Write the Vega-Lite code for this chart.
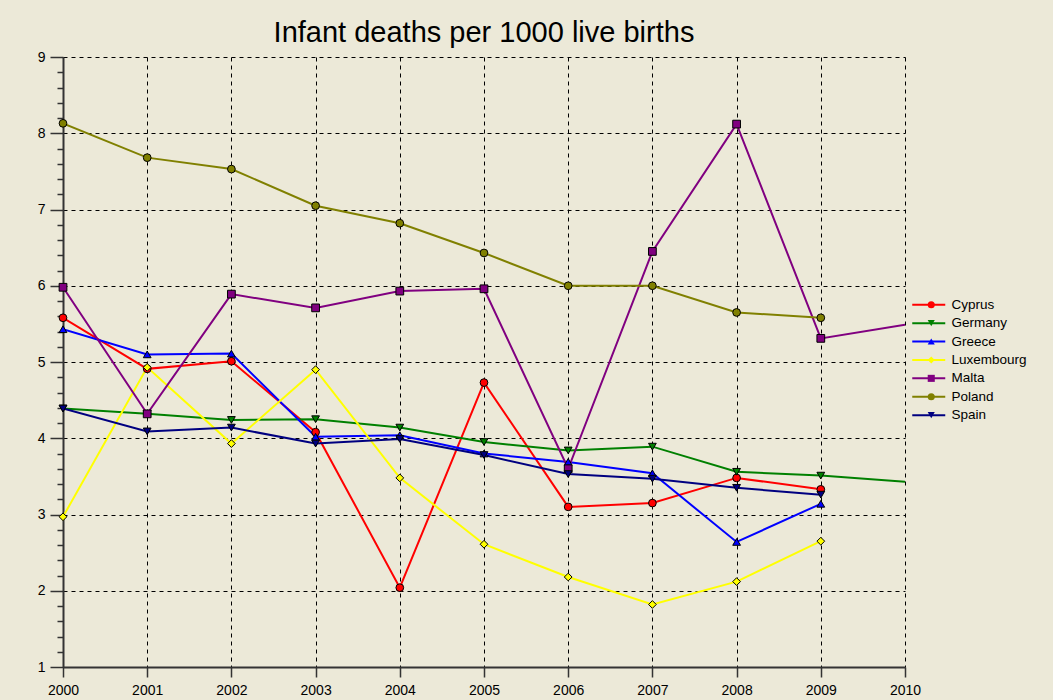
{
 "$schema": "https://vega.github.io/schema/vega-lite/v6.json",
 "width": 842, "height": 610,
 "autosize": {"type": "none"},
 "padding": {"left": 63, "top": 57, "right": 148, "bottom": 33},
 "background": "#ECE9D8",
 "title": {"text": "Infant deaths per 1000 live births", "fontSize": 29, "font": "Liberation Sans", "fontWeight": "normal", "color": "#000000", "anchor": "middle", "offset": 2},
 "config": {"view": {"stroke": null}, "font": "Liberation Sans"},
 "data": {"values": [
  {"country": "Cyprus", "year": 2000, "value": 5.58},
  {"country": "Cyprus", "year": 2001, "value": 4.91},
  {"country": "Cyprus", "year": 2002, "value": 5.01},
  {"country": "Cyprus", "year": 2003, "value": 4.08},
  {"country": "Cyprus", "year": 2004, "value": 2.04},
  {"country": "Cyprus", "year": 2005, "value": 4.73},
  {"country": "Cyprus", "year": 2006, "value": 3.1},
  {"country": "Cyprus", "year": 2007, "value": 3.15},
  {"country": "Cyprus", "year": 2008, "value": 3.48},
  {"country": "Cyprus", "year": 2009, "value": 3.33},
  {"country": "Germany", "year": 2000, "value": 4.39},
  {"country": "Germany", "year": 2001, "value": 4.32},
  {"country": "Germany", "year": 2002, "value": 4.24},
  {"country": "Germany", "year": 2003, "value": 4.25},
  {"country": "Germany", "year": 2004, "value": 4.14},
  {"country": "Germany", "year": 2005, "value": 3.95},
  {"country": "Germany", "year": 2006, "value": 3.84},
  {"country": "Germany", "year": 2007, "value": 3.89},
  {"country": "Germany", "year": 2008, "value": 3.56},
  {"country": "Germany", "year": 2009, "value": 3.51},
  {"country": "Germany", "year": 2010, "value": 3.43},
  {"country": "Greece", "year": 2000, "value": 5.43},
  {"country": "Greece", "year": 2001, "value": 5.1},
  {"country": "Greece", "year": 2002, "value": 5.11},
  {"country": "Greece", "year": 2003, "value": 4.02},
  {"country": "Greece", "year": 2004, "value": 4.04},
  {"country": "Greece", "year": 2005, "value": 3.8},
  {"country": "Greece", "year": 2006, "value": 3.69},
  {"country": "Greece", "year": 2007, "value": 3.54},
  {"country": "Greece", "year": 2008, "value": 2.64},
  {"country": "Greece", "year": 2009, "value": 3.14},
  {"country": "Luxembourg", "year": 2000, "value": 2.97},
  {"country": "Luxembourg", "year": 2001, "value": 4.93},
  {"country": "Luxembourg", "year": 2002, "value": 3.93},
  {"country": "Luxembourg", "year": 2003, "value": 4.9},
  {"country": "Luxembourg", "year": 2004, "value": 3.48},
  {"country": "Luxembourg", "year": 2005, "value": 2.61},
  {"country": "Luxembourg", "year": 2006, "value": 2.18},
  {"country": "Luxembourg", "year": 2007, "value": 1.82},
  {"country": "Luxembourg", "year": 2008, "value": 2.12},
  {"country": "Luxembourg", "year": 2009, "value": 2.65},
  {"country": "Malta", "year": 2000, "value": 5.98},
  {"country": "Malta", "year": 2001, "value": 4.32},
  {"country": "Malta", "year": 2002, "value": 5.89},
  {"country": "Malta", "year": 2003, "value": 5.71},
  {"country": "Malta", "year": 2004, "value": 5.93},
  {"country": "Malta", "year": 2005, "value": 5.96},
  {"country": "Malta", "year": 2006, "value": 3.6},
  {"country": "Malta", "year": 2007, "value": 6.45},
  {"country": "Malta", "year": 2008, "value": 8.12},
  {"country": "Malta", "year": 2009, "value": 5.31},
  {"country": "Malta", "year": 2010, "value": 5.49},
  {"country": "Poland", "year": 2000, "value": 8.13},
  {"country": "Poland", "year": 2001, "value": 7.68},
  {"country": "Poland", "year": 2002, "value": 7.53},
  {"country": "Poland", "year": 2003, "value": 7.05},
  {"country": "Poland", "year": 2004, "value": 6.82},
  {"country": "Poland", "year": 2005, "value": 6.43},
  {"country": "Poland", "year": 2006, "value": 6.0},
  {"country": "Poland", "year": 2007, "value": 6.0},
  {"country": "Poland", "year": 2008, "value": 5.65},
  {"country": "Poland", "year": 2009, "value": 5.58},
  {"country": "Spain", "year": 2000, "value": 4.39},
  {"country": "Spain", "year": 2001, "value": 4.09},
  {"country": "Spain", "year": 2002, "value": 4.14},
  {"country": "Spain", "year": 2003, "value": 3.93},
  {"country": "Spain", "year": 2004, "value": 3.99},
  {"country": "Spain", "year": 2005, "value": 3.78},
  {"country": "Spain", "year": 2006, "value": 3.53},
  {"country": "Spain", "year": 2007, "value": 3.47},
  {"country": "Spain", "year": 2008, "value": 3.35},
  {"country": "Spain", "year": 2009, "value": 3.26}
 ]},
 "encoding": {
  "x": {"field": "year", "type": "quantitative", "scale": {"domain": [2000, 2010], "nice": false, "zero": false},
   "axis": {"values": [2000,2001,2002,2003,2004,2005,2006,2007,2008,2009,2010], "format": "d", "title": null,
    "grid": true, "gridDash": [4,4], "gridColor": "#000000", "gridOpacity": 1, "gridWidth": 1,
    "domainColor": "#333333", "domainWidth": 2, "tickColor": "#333333", "tickWidth": 1.5, "tickSize": 10, "labelPadding": 6,
    "labelFontSize": 14, "labelColor": "#000000", "labelFlush": false}}
 },
 "layer": [
  {"mark": {"type": "line", "strokeWidth": 2, "clip": true},
   "encoding": {
    "y": {"field": "value", "type": "quantitative", "scale": {"domain": [1, 9], "nice": false, "zero": false},
     "axis": {"orient": "left", "values": [1,2,3,4,5,6,7,8,9], "title": null, "grid": true, "gridDash": [4,4], "gridColor": "#000000", "gridOpacity": 1, "gridWidth": 1,
      "domainColor": "#333333", "domainWidth": 2, "tickColor": "#333333", "tickWidth": 1.5, "tickSize": 13, "labelPadding": 5,
      "labelFontSize": 14, "labelColor": "#000000", "labelFlush": false}},
    "color": {"field": "country", "type": "nominal",
     "scale": {"domain": ["Cyprus","Germany","Greece","Luxembourg","Malta","Poland","Spain"],
      "range": ["#FF0000","#008000","#0000FF","#FFFF00","#800080","#808000","#000080"]},
     "legend": {"orient": "none", "legendX": 859, "legendY": 241, "title": null, "symbolType": "M-3,0H3", "symbolSize": 121,
      "symbolStrokeWidth": 2, "labelOffset": 16, "labelFontSize": 13.5, "labelColor": "#000000", "rowPadding": 3.4, "padding": 0}}
   }},
  {"transform": [{"filter": "datum.year < 2010"}],
   "mark": {"type": "point", "filled": true, "stroke": "#000000", "strokeWidth": 1, "size": 60, "opacity": 1},
   "encoding": {
    "y": {"field": "value", "type": "quantitative",
     "axis": {"orient": "left", "values": [1.2,1.4,1.6,1.8,2.2,2.4,2.6,2.8,3.2,3.4,3.6,3.8,4.2,4.4,4.6,4.8,5.2,5.4,5.6,5.8,6.2,6.4,6.6,6.8,7.2,7.4,7.6,7.8,8.2,8.4,8.6,8.8],
      "title": null, "grid": false, "domain": false, "labels": false, "tickColor": "#333333", "tickWidth": 1.5, "tickSize": 6}},
    "fill": {"field": "country", "type": "nominal",
     "scale": {"range": ["#FF0000","#008000","#0000FF","#FFFF00","#800080","#808000","#000080"]},
     "legend": {"orient": "none", "legendX": 861.5, "legendY": 241, "title": null, "symbolSize": 50, "labelOffset": 16, "labelFontSize": 13.5,
      "labelExpr": "''", "rowPadding": 3.4, "padding": 0, "symbolStrokeWidth": 1, "symbolStrokeColor": "#000000", "symbolOpacity": 1}},
    "shape": {"field": "country", "type": "nominal",
     "scale": {"range": ["circle","triangle-down","triangle-up","diamond","square","circle","triangle-down"]},
     "legend": {"orient": "none", "legendX": 861.5, "legendY": 241, "title": null, "symbolSize": 50, "labelOffset": 16, "labelFontSize": 13.5,
      "labelExpr": "''", "rowPadding": 3.4, "padding": 0, "symbolStrokeWidth": 1, "symbolStrokeColor": "#000000", "symbolOpacity": 1}}
   }}
 ],
 "resolve": {"axis": {"y": "independent"}}
}
